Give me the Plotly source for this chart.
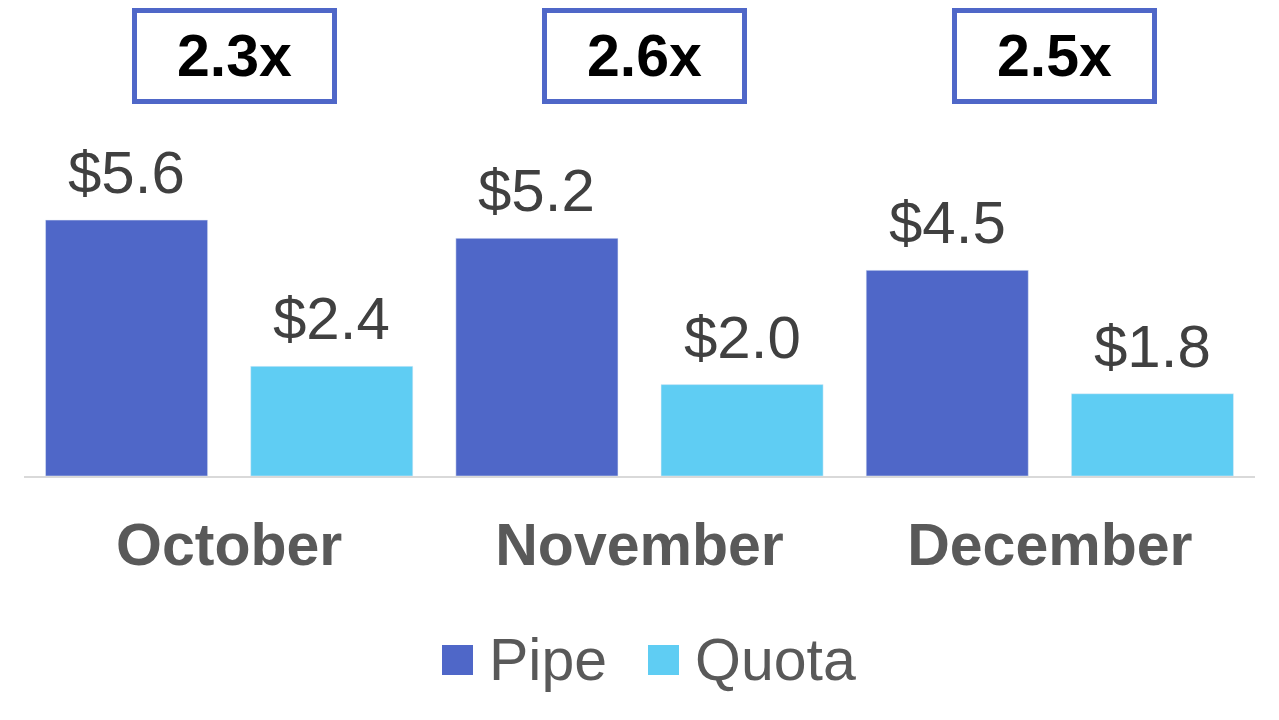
import plotly.graph_objects as go

# data
months = ["October", "November", "December"]
pipe = [5.6, 5.2, 4.5]
quota = [2.4, 2.0, 1.8]
ratios = ["2.3x", "2.6x", "2.5x"]

PIPE_COLOR = "#4F67C8"
QUOTA_COLOR = "#5FCDF3"
FONT = "Liberation Sans, Arial, sans-serif"

OFF = 8  # page body margin
W, H = 1279, 720
ML, MT = 24 - OFF, 110 - OFF
MR = W - (1255 - OFF)
MB = H - (476 - OFF)
PW, PH = W - ML - MR, H - MT - MB
SLOT = PW / len(months) / 2  # px between pipe and quota bar centres


def px_x(x):
    return (x - OFF - ML) / PW


def px_y(y):
    return (H - MB - (y - OFF)) / PH


fig = go.Figure()
fig.add_trace(go.Bar(x=months, y=pipe, name="Pipe", marker_color=PIPE_COLOR,
                     showlegend=False))
fig.add_trace(go.Bar(x=months, y=quota, name="Quota", marker_color=QUOTA_COLOR,
                     showlegend=False))

# value labels above bars
for vals, side in [(pipe, -1), (quota, 1)]:
    for m, v in zip(months, vals):
        fig.add_annotation(x=m, y=v, text=f"${v:.1f}", showarrow=False,
                           xshift=side * SLOT / 2, yanchor="bottom", yshift=12,
                           font=dict(size=60, color="#404040", family=FONT))

# ratio boxes above each month
for m, r in zip(months, ratios):
    fig.add_annotation(x=m, xref="x", y=px_y(56), yref="paper", yanchor="middle",
                       text=f"<b>{r}</b>", showarrow=False, xshift=5,
                       font=dict(size=59, color="black", family=FONT),
                       width=195, height=86, borderwidth=5, borderpad=0,
                       bordercolor=PIPE_COLOR, bgcolor="white")

# legend drawn by hand (big square swatches)
legend_items = [("Pipe", PIPE_COLOR, 442, 489), ("Quota", QUOTA_COLOR, 648, 695)]
for name, col, sx, tx in legend_items:
    fig.add_shape(type="rect", xref="paper", yref="paper",
                  x0=px_x(sx), x1=px_x(sx + 31), y0=px_y(675), y1=px_y(645),
                  fillcolor=col, line_width=0)
    fig.add_annotation(x=px_x(tx - 2), y=px_y(660), xref="paper", yref="paper",
                       xanchor="left", yanchor="middle", showarrow=False,
                       text=name, font=dict(size=59, color="#595959", family=FONT))

fig.update_layout(
    width=W, height=H,
    margin=dict(l=ML, r=MR, t=MT, b=MB),
    paper_bgcolor="white", plot_bgcolor="white",
    barmode="group", bargap=0, bargroupgap=0.21,
    font=dict(family=FONT),
    xaxis=dict(showline=True, linecolor="#D9D9D9", linewidth=2,
               tickfont=dict(size=59, color="#595959", family=FONT),
               tickprefix="<b>", ticksuffix="</b>",
               ticks="", ticklabelstandoff=16, showgrid=False),
    yaxis=dict(range=[0, PH / 45.7], visible=False, showgrid=False),
)

fig.write_html("out.html")
